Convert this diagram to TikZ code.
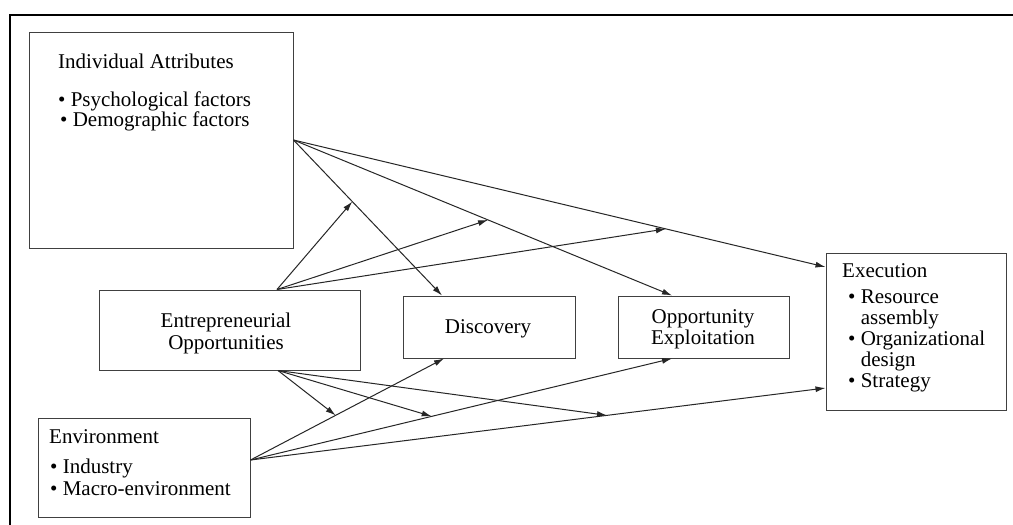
\documentclass[tikz,border=0pt]{standalone}
\usepackage{fontspec}
\setmainfont{Liberation Serif}
\usetikzlibrary{arrows.meta,calc}
\begin{document}
\begin{tikzpicture}[x=1pt,y=-1pt,
  box/.style={draw=black!75,line width=1pt,rectangle,inner sep=0pt},
  txt/.style={anchor=base west,inner sep=0pt,font=\fontsize{21}{21}\selectfont,text=black},
  ctxt/.style={anchor=base,inner sep=0pt,font=\fontsize{21}{21}\selectfont,text=black},
  arr/.style={draw=black!85,line width=1pt,-{Latex[length=10pt,width=6pt]}},
  frameline/.style={line width=2.4pt,black}]
\useasboundingbox (0,0) rectangle (1013,525);
\fill[white] (0,0) rectangle (1013,525);
\draw[frameline] (9,15) -- (1013,15);
\draw[frameline] (10,15) -- (10,525);

% boxes
\node[box,minimum width=264pt,minimum height=216pt] (ia) at (161,140) {};
\node[box,minimum width=261pt,minimum height=80pt] (eo) at (229.5,330) {};
\node[box,minimum width=172pt,minimum height=62pt] (disc) at (489,327) {};
\node[box,minimum width=171pt,minimum height=62pt] (opp) at (703.5,327) {};
\node[box,minimum width=180pt,minimum height=157pt] (exec) at (916,331.5) {};
\node[box,minimum width=212pt,minimum height=99pt] (env) at (144,467.5) {};

% texts
\node[txt] (t1) at (58,68) {Individual Attributes};
\node[txt] (t2) at (58,106) {\textbullet\ Psychological factors};
\node[txt] (t3) at (60,126) {\textbullet\ Demographic factors};
\node[ctxt] (t4) at (226,327) {Entrepreneurial};
\node[ctxt] (t5) at (226,349) {Opportunities};
\node[ctxt] (t6) at (488,333) {Discovery};
\node[ctxt] (t7) at (703,323) {Opportunity};
\node[ctxt] (t8) at (703,344) {Exploitation};
\node[txt] (t9) at (842,277) {Execution};
\node[txt] (t10) at (848,303) {\textbullet\ Resource};
\node[txt] (t11) at (848,324) {\phantom{\textbullet\ }assembly};
\node[txt] (t12) at (848,345) {\textbullet\ Organizational};
\node[txt] (t13) at (848,366) {\phantom{\textbullet\ }design};
\node[txt] (t14) at (848,387) {\textbullet\ Strategy};
\node[txt] (t15) at (49,443) {Environment};
\node[txt] (t16) at (50,473) {\textbullet\ Industry};
\node[txt] (t17) at (50,495) {\textbullet\ Macro-environment};

% anchor points
\coordinate (iaR) at (ia.east);
\coordinate (eoT) at ([xshift=47.5pt]eo.north);
\coordinate (eoB) at ([xshift=48.5pt]eo.south);
\coordinate (envR) at ([yshift=7.5pt]env.east);
\coordinate (discT) at ([xshift=-47pt]disc.north);
\coordinate (discB) at ([xshift=-45pt]disc.south);
\coordinate (oppT) at ([xshift=-31.5pt]opp.north);
\coordinate (oppB) at ([xshift=-31.5pt]opp.south);
\coordinate (exL1) at ([yshift=64.5pt]exec.west);
\coordinate (exL2) at ([yshift=-56.5pt]exec.west);

% main arrows
\draw[arr] (iaR) -- (discT);
\draw[arr] (iaR) -- (oppT);
\draw[arr] (iaR) -- (exL1);
\draw[arr] (envR) -- (discB);
\draw[arr] (envR) -- (oppB);
\draw[arr] (envR) -- (exL2);

% moderating arrows
\coordinate (m1) at ($(iaR)!0.396!(discT)$);
\coordinate (m2) at ($(iaR)!0.514!(oppT)$);
\coordinate (m3) at ($(iaR)!0.70!(exL1)$);
\coordinate (m4) at ($(envR)!0.44!(discB)$);
\coordinate (m5) at ($(envR)!0.43!(oppB)$);
\coordinate (m6) at ($(envR)!0.62!(exL2)$);
\draw[arr] (eoT) -- (m1);
\draw[arr] (eoT) -- (m2);
\draw[arr] (eoT) -- (m3);
\draw[arr] (eoB) -- (m4);
\draw[arr] (eoB) -- (m5);
\draw[arr] (eoB) -- (m6);
\end{tikzpicture}
\end{document}
